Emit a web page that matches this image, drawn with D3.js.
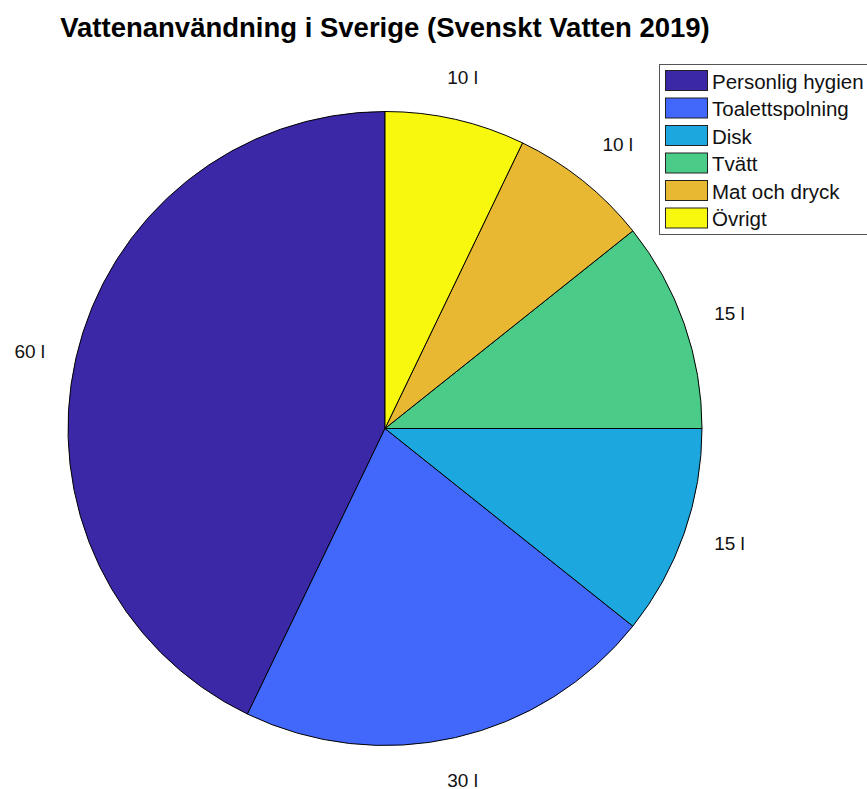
<!DOCTYPE html>
<html>
<head>
<meta charset="utf-8">
<script src="https://cdn.jsdelivr.net/npm/d3@7"></script>
<style>
  body { margin: 0; background: #fff; }
  text { font-family: "Liberation Sans", Arial, Helvetica, sans-serif; }
</style>
</head>
<body>
<svg width="867" height="789"></svg>
<script>
const categories = ["Personlig hygien", "Toalettspolning", "Disk", "Tvätt", "Mat och dryck", "Övrigt"];
const values = [60, 30, 15, 15, 10, 10];
const labels = ["60 l", "30 l", "15 l", "15 l", "10 l", "10 l"];
const colors = ["#3b28a6", "#4267fb", "#1ca8de", "#4acb88", "#e8b833", "#f8f80f"];

const width = 867, height = 789;
const cx = 385, cy = 428.5, r = 317;

let svg = d3.select("svg");

// title
svg.append("text")
    .attr("x", cx)
    .attr("y", 37)
    .attr("text-anchor", "middle")
    .attr("font-size", 27.5)
    .attr("font-weight", "bold")
    .text("Vattenanvändning i Sverige (Svenskt Vatten 2019)");

// matlab style: start at top, go counterclockwise
let pie = d3.pie().sort(null).startAngle(0).endAngle(-2 * Math.PI);
let arcs = pie(values);

let arc = d3.arc().innerRadius(0).outerRadius(r);

let g = svg.append("g").attr("transform", `translate(${cx},${cy})`);

g.selectAll("path.slice")
    .data(arcs)
    .enter()
    .append("path")
    .attr("class", "slice")
    .attr("d", arc)
    .attr("fill", (d, i) => colors[i])
    .attr("stroke", "#000")
    .attr("stroke-width", 1);

// labels at 1.1 r, aligned away from the pie like matlab does
const lr = r * 1.1;
function mid(d) { return (d.startAngle + d.endAngle) / 2; }

g.selectAll("text.lbl")
    .data(arcs)
    .enter()
    .append("text")
    .attr("class", "lbl")
    .attr("x", d => Math.sin(mid(d)) * lr)
    .attr("y", d => -Math.cos(mid(d)) * lr)
    .attr("text-anchor", d => {
        let s = Math.sin(mid(d));
        return s > 0.4 ? "start" : (s < -0.4 ? "end" : "middle");
    })
    .attr("dy", d => {
        let c = Math.cos(mid(d));
        return c > 0.5 ? "-0.25em" : (c < -0.5 ? "0.95em" : "0.35em");
    })
    .attr("font-size", 19)
    .attr("fill", "#111")
    .text((d, i) => labels[i]);

// legend
let legend = svg.append("g").attr("transform", "translate(659,64)");
legend.append("rect")
    .attr("x", 0.5).attr("y", 0.5)
    .attr("width", 220).attr("height", 170)
    .attr("fill", "#fff")
    .attr("stroke", "#555")
    .attr("stroke-width", 1);

let item = legend.selectAll("g.item")
    .data(categories)
    .enter()
    .append("g")
    .attr("class", "item")
    .attr("transform", (d, i) => `translate(6,${6 + i * 27.5})`);

item.append("rect")
    .attr("x", 0.5).attr("y", 0.5)
    .attr("width", 42).attr("height", 20)
    .attr("fill", (d, i) => colors[i])
    .attr("stroke", "#222")
    .attr("stroke-width", 1);

item.append("text")
    .attr("x", 47)
    .attr("y", 11)
    .attr("dominant-baseline", "central")
    .attr("font-size", 20.5)
    .attr("fill", "#111")
    .text(d => d);
</script>
</body>
</html>
